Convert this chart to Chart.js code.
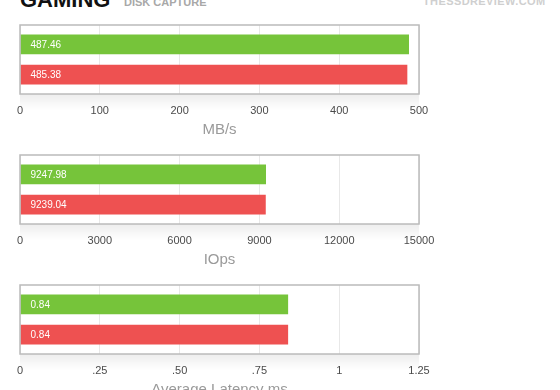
<!DOCTYPE html>
<html>
<head>
<meta charset="utf-8">
<script src="https://cdn.jsdelivr.net/npm/chart.js@4.4.1/dist/chart.umd.min.js"></script>
<style>
  body { margin: 0; width: 560px; height: 390px; overflow: hidden; background: #fff; position: relative;
         font-family: "Liberation Sans", Arial, sans-serif; }
  .hd { position: absolute; white-space: nowrap; }
  #title { left: 20px; top: -11px; font-size: 22px; line-height: 22px; font-weight: bold; color: #111; }
  #sub { left: 124px; top: -3px; font-size: 11px; line-height: 11px; font-weight: bold; color: #a8a8a8; }
  #logo { left: 423px; top: -4px; font-size: 11px; line-height: 11px; font-weight: bold; color: #cfcfcf; letter-spacing: 0.4px; }
  .box { position: absolute; left: 0; }
</style>
</head>
<body>
<div class="hd" id="title">GAMING</div>
<div class="hd" id="sub">DISK CAPTURE</div>
<div class="hd" id="logo">THESSDREVIEW.COM</div>

<div class="box" style="top:20px"><canvas id="mbChart" width="440" height="120"></canvas></div>
<div class="box" style="top:150px"><canvas id="iopsChart" width="440" height="120"></canvas></div>
<div class="box" style="top:280px"><canvas id="latChart" width="440" height="120"></canvas></div>

<script>
// two drives, same test
const seriesColors = ['#76c43a', '#ee5151'];

const mbValues = [487.46, 485.38];
const mbTicks = ['0', '100', '200', '300', '400', '500'];

const iopsValues = [9247.98, 9239.04];
const iopsTicks = ['0', '3000', '6000', '9000', '12000', '15000'];

const latValues = [0.84, 0.84];
const latTicks = ['0', '.25', '.50', '.75', '1', '1.25'];

// box round the plot, soft shadow under it, value text in the bars
const framePlugin = {
  id: 'frame',
  beforeDraw(chart) {
    const { ctx, chartArea: a } = chart;
    const g = ctx.createLinearGradient(0, a.bottom, 0, a.bottom + 16);
    g.addColorStop(0, 'rgba(0,0,0,0.07)');
    g.addColorStop(1, 'rgba(0,0,0,0)');
    ctx.save();
    ctx.fillStyle = g;
    ctx.fillRect(a.left, a.bottom, a.right - a.left, 16);
    ctx.restore();
  },
  afterDraw(chart) {
    const { ctx, chartArea: a } = chart;
    ctx.save();
    ctx.strokeStyle = '#bbbbbb';
    ctx.lineWidth = 1.5;
    ctx.strokeRect(a.left, a.top, a.right - a.left, a.bottom - a.top);

    ctx.fillStyle = '#ffffff';
    ctx.font = '10px "Liberation Sans", Arial, sans-serif';
    ctx.textBaseline = 'middle';
    chart.data.datasets.forEach((ds, i) => {
      const bar = chart.getDatasetMeta(i).data[0];
      ctx.fillText(String(ds.data[0]), a.left + 10.5, bar.y + 0.5);
    });
    ctx.restore();
  }
};

function makeChart(id, values, ticks, max, step, title) {
  const ctx = document.getElementById(id).getContext('2d');
  return new Chart(ctx, {
    type: 'bar',
    data: {
      labels: [''],
      datasets: values.map((v, i) => ({
        data: [v],
        backgroundColor: seriesColors[i],
        borderWidth: 0,
        categoryPercentage: 0.873,
        barPercentage: 0.657
      }))
    },
    options: {
      indexAxis: 'y',
      responsive: false,
      animation: false,
      layout: { padding: { left: 20, right: 21, top: 5, bottom: 0 } },
      plugins: { legend: { display: false }, tooltip: { enabled: false } },
      scales: {
        y: { display: false },
        x: {
          min: 0,
          max: max,
          afterFit(scale) {
            scale.height = 46;
            scale.paddingLeft = 0;
            scale.paddingRight = 0;
          },
          grid: { color: '#e8e8e8', lineWidth: 1, drawTicks: false },
          border: { display: false },
          ticks: {
            stepSize: step,
            padding: 10,
            color: '#4a4a4a',
            font: { size: 11, family: '"Liberation Sans", Arial, sans-serif' },
            callback: (v, i) => ticks[i]
          },
          title: {
            display: true,
            text: title,
            color: '#9a9a9a',
            padding: { top: 0, bottom: 1 },
            font: { size: 15, family: '"Liberation Sans", Arial, sans-serif' }
          }
        }
      }
    },
    plugins: [framePlugin]
  });
}

makeChart('mbChart', mbValues, mbTicks, 500, 100, 'MB/s');
makeChart('iopsChart', iopsValues, iopsTicks, 15000, 3000, 'IOps');
makeChart('latChart', latValues, latTicks, 1.25, 0.25, 'Average Latency ms');
</script>
</body>
</html>
